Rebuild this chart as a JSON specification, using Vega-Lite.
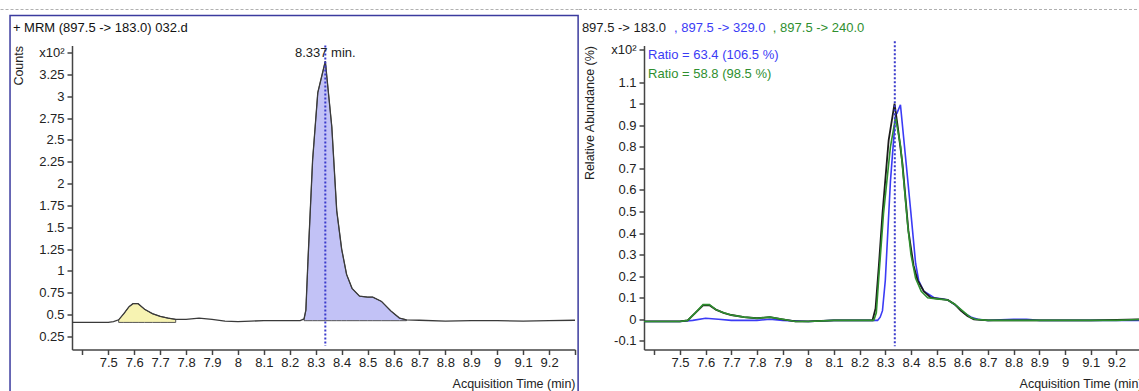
{
  "$schema": "https://vega.github.io/schema/vega-lite/v6.json",
  "background": "white",
  "padding": {"left": 0, "top": 8.5, "right": 5, "bottom": 5},
  "bounds": "flush",
  "spacing": 69,
  "datasets": {
    "mrm": [
      {"t": 7.36, "v": 0.41}, {"t": 7.40, "v": 0.41}, {"t": 7.45, "v": 0.41}, {"t": 7.50, "v": 0.41},
      {"t": 7.52, "v": 0.42}, {"t": 7.54, "v": 0.44}, {"t": 7.56, "v": 0.51}, {"t": 7.58, "v": 0.59},
      {"t": 7.595, "v": 0.625}, {"t": 7.615, "v": 0.625}, {"t": 7.64, "v": 0.56}, {"t": 7.67, "v": 0.51},
      {"t": 7.70, "v": 0.48}, {"t": 7.73, "v": 0.46}, {"t": 7.76, "v": 0.445}, {"t": 7.80, "v": 0.445},
      {"t": 7.85, "v": 0.46}, {"t": 7.90, "v": 0.445}, {"t": 7.95, "v": 0.425}, {"t": 8.00, "v": 0.42},
      {"t": 8.05, "v": 0.425}, {"t": 8.10, "v": 0.43}, {"t": 8.15, "v": 0.43}, {"t": 8.20, "v": 0.43},
      {"t": 8.24, "v": 0.43}, {"t": 8.255, "v": 0.45}, {"t": 8.262, "v": 0.55}, {"t": 8.27, "v": 1.11},
      {"t": 8.288, "v": 2.27}, {"t": 8.308, "v": 3.04}, {"t": 8.337, "v": 3.40}, {"t": 8.362, "v": 2.65},
      {"t": 8.381, "v": 1.69}, {"t": 8.40, "v": 1.25}, {"t": 8.419, "v": 0.96}, {"t": 8.44, "v": 0.80},
      {"t": 8.469, "v": 0.71}, {"t": 8.50, "v": 0.70}, {"t": 8.52, "v": 0.70}, {"t": 8.554, "v": 0.65},
      {"t": 8.59, "v": 0.54}, {"t": 8.623, "v": 0.46}, {"t": 8.65, "v": 0.44}, {"t": 8.70, "v": 0.435},
      {"t": 8.80, "v": 0.425}, {"t": 8.90, "v": 0.43}, {"t": 9.00, "v": 0.43}, {"t": 9.10, "v": 0.425},
      {"t": 9.20, "v": 0.43}, {"t": 9.30, "v": 0.435}
    ],
    "ratio": [
      {"trace": "897.5 -> 329.0", "t": 7.36, "v": -0.01}, {"trace": "897.5 -> 329.0", "t": 7.50, "v": -0.01},
      {"trace": "897.5 -> 329.0", "t": 7.55, "v": -0.005}, {"trace": "897.5 -> 329.0", "t": 7.60, "v": 0.005},
      {"trace": "897.5 -> 329.0", "t": 7.65, "v": 0.0}, {"trace": "897.5 -> 329.0", "t": 7.70, "v": -0.005},
      {"trace": "897.5 -> 329.0", "t": 7.80, "v": -0.005}, {"trace": "897.5 -> 329.0", "t": 7.85, "v": 0.0},
      {"trace": "897.5 -> 329.0", "t": 7.90, "v": -0.005}, {"trace": "897.5 -> 329.0", "t": 8.00, "v": -0.01},
      {"trace": "897.5 -> 329.0", "t": 8.10, "v": -0.005}, {"trace": "897.5 -> 329.0", "t": 8.20, "v": -0.005},
      {"trace": "897.5 -> 329.0", "t": 8.27, "v": -0.005}, {"trace": "897.5 -> 329.0", "t": 8.28, "v": 0.01},
      {"trace": "897.5 -> 329.0", "t": 8.289, "v": 0.04}, {"trace": "897.5 -> 329.0", "t": 8.30, "v": 0.18},
      {"trace": "897.5 -> 329.0", "t": 8.32, "v": 0.64}, {"trace": "897.5 -> 329.0", "t": 8.34, "v": 0.95},
      {"trace": "897.5 -> 329.0", "t": 8.345, "v": 0.955}, {"trace": "897.5 -> 329.0", "t": 8.359, "v": 0.995},
      {"trace": "897.5 -> 329.0", "t": 8.379, "v": 0.75}, {"trace": "897.5 -> 329.0", "t": 8.40, "v": 0.49},
      {"trace": "897.5 -> 329.0", "t": 8.418, "v": 0.26}, {"trace": "897.5 -> 329.0", "t": 8.43, "v": 0.18},
      {"trace": "897.5 -> 329.0", "t": 8.45, "v": 0.13}, {"trace": "897.5 -> 329.0", "t": 8.49, "v": 0.10},
      {"trace": "897.5 -> 329.0", "t": 8.52, "v": 0.095}, {"trace": "897.5 -> 329.0", "t": 8.543, "v": 0.09},
      {"trace": "897.5 -> 329.0", "t": 8.58, "v": 0.06}, {"trace": "897.5 -> 329.0", "t": 8.606, "v": 0.03},
      {"trace": "897.5 -> 329.0", "t": 8.635, "v": 0.01}, {"trace": "897.5 -> 329.0", "t": 8.66, "v": 0.0},
      {"trace": "897.5 -> 329.0", "t": 8.70, "v": -0.005}, {"trace": "897.5 -> 329.0", "t": 8.80, "v": 0.0},
      {"trace": "897.5 -> 329.0", "t": 8.85, "v": 0.0}, {"trace": "897.5 -> 329.0", "t": 8.90, "v": -0.005},
      {"trace": "897.5 -> 329.0", "t": 9.00, "v": -0.005}, {"trace": "897.5 -> 329.0", "t": 9.10, "v": -0.005},
      {"trace": "897.5 -> 329.0", "t": 9.20, "v": -0.005}, {"trace": "897.5 -> 329.0", "t": 9.30, "v": -0.005},

      {"trace": "897.5 -> 183.0", "t": 7.36, "v": -0.01}, {"trace": "897.5 -> 183.0", "t": 7.45, "v": -0.01},
      {"trace": "897.5 -> 183.0", "t": 7.50, "v": -0.01}, {"trace": "897.5 -> 183.0", "t": 7.53, "v": -0.005},
      {"trace": "897.5 -> 183.0", "t": 7.56, "v": 0.03}, {"trace": "897.5 -> 183.0", "t": 7.59, "v": 0.065},
      {"trace": "897.5 -> 183.0", "t": 7.615, "v": 0.065}, {"trace": "897.5 -> 183.0", "t": 7.64, "v": 0.045},
      {"trace": "897.5 -> 183.0", "t": 7.67, "v": 0.03}, {"trace": "897.5 -> 183.0", "t": 7.70, "v": 0.02},
      {"trace": "897.5 -> 183.0", "t": 7.75, "v": 0.01}, {"trace": "897.5 -> 183.0", "t": 7.80, "v": 0.005},
      {"trace": "897.5 -> 183.0", "t": 7.85, "v": 0.01}, {"trace": "897.5 -> 183.0", "t": 7.90, "v": 0.0},
      {"trace": "897.5 -> 183.0", "t": 7.95, "v": -0.01}, {"trace": "897.5 -> 183.0", "t": 8.00, "v": -0.01},
      {"trace": "897.5 -> 183.0", "t": 8.10, "v": -0.005}, {"trace": "897.5 -> 183.0", "t": 8.20, "v": -0.005},
      {"trace": "897.5 -> 183.0", "t": 8.25, "v": -0.005}, {"trace": "897.5 -> 183.0", "t": 8.262, "v": 0.05},
      {"trace": "897.5 -> 183.0", "t": 8.275, "v": 0.25}, {"trace": "897.5 -> 183.0", "t": 8.289, "v": 0.49},
      {"trace": "897.5 -> 183.0", "t": 8.313, "v": 0.83}, {"trace": "897.5 -> 183.0", "t": 8.336, "v": 1.0},
      {"trace": "897.5 -> 183.0", "t": 8.35, "v": 0.88}, {"trace": "897.5 -> 183.0", "t": 8.367, "v": 0.72},
      {"trace": "897.5 -> 183.0", "t": 8.39, "v": 0.41}, {"trace": "897.5 -> 183.0", "t": 8.41, "v": 0.25},
      {"trace": "897.5 -> 183.0", "t": 8.426, "v": 0.18}, {"trace": "897.5 -> 183.0", "t": 8.45, "v": 0.13},
      {"trace": "897.5 -> 183.0", "t": 8.477, "v": 0.10}, {"trace": "897.5 -> 183.0", "t": 8.51, "v": 0.095},
      {"trace": "897.5 -> 183.0", "t": 8.543, "v": 0.09}, {"trace": "897.5 -> 183.0", "t": 8.57, "v": 0.07},
      {"trace": "897.5 -> 183.0", "t": 8.594, "v": 0.04}, {"trace": "897.5 -> 183.0", "t": 8.62, "v": 0.015},
      {"trace": "897.5 -> 183.0", "t": 8.645, "v": 0.0}, {"trace": "897.5 -> 183.0", "t": 8.70, "v": -0.005},
      {"trace": "897.5 -> 183.0", "t": 8.80, "v": -0.005}, {"trace": "897.5 -> 183.0", "t": 8.90, "v": -0.005},
      {"trace": "897.5 -> 183.0", "t": 9.00, "v": -0.005}, {"trace": "897.5 -> 183.0", "t": 9.10, "v": -0.005},
      {"trace": "897.5 -> 183.0", "t": 9.20, "v": -0.003}, {"trace": "897.5 -> 183.0", "t": 9.30, "v": 0.0},

      {"trace": "897.5 -> 240.0", "t": 7.36, "v": -0.01}, {"trace": "897.5 -> 240.0", "t": 7.50, "v": -0.01},
      {"trace": "897.5 -> 240.0", "t": 7.53, "v": -0.005}, {"trace": "897.5 -> 240.0", "t": 7.56, "v": 0.03},
      {"trace": "897.5 -> 240.0", "t": 7.59, "v": 0.068}, {"trace": "897.5 -> 240.0", "t": 7.615, "v": 0.068},
      {"trace": "897.5 -> 240.0", "t": 7.64, "v": 0.045}, {"trace": "897.5 -> 240.0", "t": 7.67, "v": 0.03},
      {"trace": "897.5 -> 240.0", "t": 7.70, "v": 0.02}, {"trace": "897.5 -> 240.0", "t": 7.75, "v": 0.01},
      {"trace": "897.5 -> 240.0", "t": 7.80, "v": 0.005}, {"trace": "897.5 -> 240.0", "t": 7.85, "v": 0.01},
      {"trace": "897.5 -> 240.0", "t": 7.90, "v": 0.0}, {"trace": "897.5 -> 240.0", "t": 7.95, "v": -0.01},
      {"trace": "897.5 -> 240.0", "t": 8.00, "v": -0.01}, {"trace": "897.5 -> 240.0", "t": 8.10, "v": -0.005},
      {"trace": "897.5 -> 240.0", "t": 8.20, "v": -0.005}, {"trace": "897.5 -> 240.0", "t": 8.255, "v": -0.005},
      {"trace": "897.5 -> 240.0", "t": 8.265, "v": 0.03}, {"trace": "897.5 -> 240.0", "t": 8.275, "v": 0.2},
      {"trace": "897.5 -> 240.0", "t": 8.293, "v": 0.49}, {"trace": "897.5 -> 240.0", "t": 8.32, "v": 0.80},
      {"trace": "897.5 -> 240.0", "t": 8.34, "v": 0.935}, {"trace": "897.5 -> 240.0", "t": 8.36, "v": 0.80},
      {"trace": "897.5 -> 240.0", "t": 8.387, "v": 0.44}, {"trace": "897.5 -> 240.0", "t": 8.40, "v": 0.30},
      {"trace": "897.5 -> 240.0", "t": 8.418, "v": 0.19}, {"trace": "897.5 -> 240.0", "t": 8.44, "v": 0.13},
      {"trace": "897.5 -> 240.0", "t": 8.465, "v": 0.10}, {"trace": "897.5 -> 240.0", "t": 8.50, "v": 0.095},
      {"trace": "897.5 -> 240.0", "t": 8.543, "v": 0.09}, {"trace": "897.5 -> 240.0", "t": 8.57, "v": 0.07},
      {"trace": "897.5 -> 240.0", "t": 8.60, "v": 0.04}, {"trace": "897.5 -> 240.0", "t": 8.63, "v": 0.01},
      {"trace": "897.5 -> 240.0", "t": 8.65, "v": 0.0}, {"trace": "897.5 -> 240.0", "t": 8.70, "v": -0.005},
      {"trace": "897.5 -> 240.0", "t": 8.80, "v": -0.005}, {"trace": "897.5 -> 240.0", "t": 9.00, "v": -0.005},
      {"trace": "897.5 -> 240.0", "t": 9.20, "v": -0.005}, {"trace": "897.5 -> 240.0", "t": 9.30, "v": 0.0}
    ]
  },
  "config": {
    "view": {"stroke": null},
    "font": "Liberation Sans",
    "text": {"font": "Liberation Sans", "fontSize": 13},
    "axis": {
      "labelFont": "Liberation Sans", "labelFontSize": 13, "labelColor": "#222",
      "domainColor": "#444", "domainWidth": 1.5, "tickColor": "#444", "tickWidth": 1.5, "tickSize": 5,
      "grid": false,
      "titleFont": "Liberation Sans", "titleFontSize": 12.5, "titleFontWeight": "normal", "titleColor": "#222"
    },
    "axisX": {"labelPadding": 2},
    "axisY": {"labelPadding": 3}
  },
  "hconcat": [
    {
      "width": 503,
      "height": 304,
      "data": {"name": "mrm"},
      "encoding": {
        "x": {
          "field": "t", "type": "quantitative",
          "scale": {"domain": [7.36, 9.3], "nice": false, "zero": false},
          "axis": {
            "values": [7.4, 7.5, 7.6, 7.7, 7.8, 7.9, 8, 8.1, 8.2, 8.3, 8.4, 8.5, 8.6, 8.7, 8.8, 8.9, 9, 9.1, 9.2, 9.3],
            "labelExpr": "datum.value < 7.45 || datum.value > 9.25 ? '' : '' + datum.value",
            "labelFlush": false, "labelOverlap": false,
            "title": "Acquisition Time (min)", "titleAnchor": "end", "titlePadding": 8
          }
        },
        "y": {
          "field": "v", "type": "quantitative",
          "scale": {"domain": [0.1, 3.58], "nice": false, "zero": false},
          "axis": {
            "values": [0.25, 0.5, 0.75, 1, 1.25, 1.5, 1.75, 2, 2.25, 2.5, 2.75, 3, 3.25, 3.5],
            "labelExpr": "datum.value == 3.5 ? 'x10²' : '' + datum.value",
            "labelOverlap": false, "labelFlush": false,
            "title": "Counts", "titleAnchor": "end", "titlePadding": 13
          }
        }
      },
      "layer": [
        {
          "transform": [{"filter": "datum.t >= 7.54 && datum.t <= 7.76"}],
          "mark": {"type": "area", "fill": "#f7f3b2", "stroke": "#555", "strokeWidth": 1, "opacity": 1},
          "encoding": {"y2": {"datum": 0.41}}
        },
        {
          "transform": [{"filter": "datum.t >= 8.255 && datum.t <= 8.65"}],
          "mark": {"type": "area", "fill": "#c2c2f6", "stroke": "#555", "strokeWidth": 1, "opacity": 1},
          "encoding": {"y2": {"datum": 0.43}}
        },
        {
          "mark": {"type": "line", "color": "#3a3a3a", "strokeWidth": 1.3}
        },
        {
          "transform": [{"filter": "datum.t == 8.337"}],
          "mark": {"type": "rule", "color": "#3a3acc", "strokeWidth": 2, "strokeDash": [2, 2]},
          "encoding": {"y": {"datum": 3.58}, "y2": {"datum": 0.14}}
        },
        {
          "transform": [{"filter": "datum.t == 8.337"}],
          "mark": {"type": "text", "text": "8.337 min.", "align": "center", "baseline": "middle", "color": "#222", "fontSize": 13},
          "encoding": {"y": {"datum": 3.49}}
        },
        {
          "transform": [{"filter": "datum.t == 7.36"}],
          "mark": {"type": "text", "text": "+ MRM (897.5 -> 183.0) 032.d", "align": "left", "baseline": "middle", "color": "#111", "fontSize": 13},
          "encoding": {"x": {"datum": 7.132}, "y": {"datum": 3.786}}
        },
        {
          "transform": [{"filter": "datum.t == 7.36"}],
          "mark": {"type": "rect", "fill": null, "stroke": "#3b3b9e", "strokeWidth": 1.5},
          "encoding": {"x": {"datum": 7.121}, "x2": {"datum": 9.312}, "y": {"datum": 3.923}, "y2": {"datum": -0.45}}
        },
        {
          "transform": [{"filter": "datum.t == 7.36"}],
          "mark": {"type": "rule", "color": "#b0b0b0", "strokeWidth": 1, "strokeDash": [3, 2]},
          "encoding": {"x": {"datum": 7.0843}, "x2": {"datum": 9.315}, "y": {"datum": 3.992}}
        }
      ]
    },
    {
      "width": 498,
      "height": 304,
      "data": {"name": "ratio"},
      "encoding": {
        "x": {
          "field": "t", "type": "quantitative",
          "scale": {"domain": [7.36, 9.3], "nice": false, "zero": false},
          "axis": {
            "values": [7.4, 7.5, 7.6, 7.7, 7.8, 7.9, 8, 8.1, 8.2, 8.3, 8.4, 8.5, 8.6, 8.7, 8.8, 8.9, 9, 9.1, 9.2, 9.3],
            "labelExpr": "datum.value < 7.45 || datum.value > 9.25 ? '' : '' + datum.value",
            "labelFlush": false, "labelOverlap": false,
            "title": "Acquisition Time (min)", "titleAnchor": "end", "titlePadding": 8
          }
        },
        "y": {
          "field": "v", "type": "quantitative",
          "scale": {"domain": [-0.14, 1.27], "nice": false, "zero": false},
          "axis": {
            "values": [-0.1, 0, 0.1, 0.2, 0.3, 0.4, 0.5, 0.6, 0.7, 0.8, 0.9, 1, 1.1, 1.25],
            "labelExpr": "datum.value == 1.25 ? 'x10²' : '' + datum.value",
            "labelOverlap": false, "labelFlush": false,
            "title": "Relative Abundance (%)", "titleAnchor": "end", "titlePadding": 14
          }
        },
        "color": {
          "field": "trace", "type": "nominal",
          "scale": {"domain": ["897.5 -> 183.0", "897.5 -> 329.0", "897.5 -> 240.0"], "range": ["#1c1c1c", "#3b3bf5", "#2f8f2f"]},
          "legend": null
        }
      },
      "layer": [
        {
          "transform": [{"filter": "datum.trace == '897.5 -> 329.0'"}],
          "mark": {"type": "line", "strokeWidth": 1.6}
        },
        {
          "transform": [{"filter": "datum.trace == '897.5 -> 183.0'"}],
          "mark": {"type": "line", "strokeWidth": 1.8}
        },
        {
          "transform": [{"filter": "datum.trace == '897.5 -> 240.0'"}],
          "mark": {"type": "line", "strokeWidth": 1.6}
        },
        {
          "transform": [{"filter": "datum.t == 7.36 && datum.trace == '897.5 -> 183.0'"}],
          "mark": {"type": "rule", "color": "#3a3acc", "strokeWidth": 2, "strokeDash": [2, 2]},
          "encoding": {"x": {"datum": 8.337}, "y": {"datum": 1.29}, "y2": {"datum": -0.125}, "color": {"value": "#3a3acc"}}
        },
        {
          "transform": [{"filter": "datum.t == 7.36 && datum.trace == '897.5 -> 183.0'"}],
          "mark": {"type": "rule", "strokeWidth": 1, "strokeDash": [3, 2]},
          "encoding": {"x": {"datum": 7.1068}, "x2": {"datum": 9.35}, "y": {"datum": 1.437}, "color": {"value": "#b0b0b0"}}
        },
        {
          "transform": [{"filter": "datum.t == 7.36 && datum.trace == '897.5 -> 183.0'"}],
          "mark": {"type": "text", "text": "897.5 -> 183.0", "align": "left", "baseline": "middle", "fontSize": 13},
          "encoding": {"x": {"datum": 7.118}, "y": {"datum": 1.353}, "color": {"datum": "897.5 -> 183.0"}}
        },
        {
          "transform": [{"filter": "datum.t == 7.36 && datum.trace == '897.5 -> 183.0'"}],
          "mark": {"type": "text", "text": ", 897.5 -> 329.0", "align": "left", "baseline": "middle", "fontSize": 13},
          "encoding": {"x": {"datum": 7.477}, "y": {"datum": 1.353}, "color": {"datum": "897.5 -> 329.0"}}
        },
        {
          "transform": [{"filter": "datum.t == 7.36 && datum.trace == '897.5 -> 183.0'"}],
          "mark": {"type": "text", "text": ", 897.5 -> 240.0", "align": "left", "baseline": "middle", "fontSize": 13},
          "encoding": {"x": {"datum": 7.862}, "y": {"datum": 1.353}, "color": {"datum": "897.5 -> 240.0"}}
        },
        {
          "transform": [{"filter": "datum.t == 7.36 && datum.trace == '897.5 -> 183.0'"}],
          "mark": {"type": "text", "text": "Ratio = 63.4 (106.5 %)", "align": "left", "baseline": "middle", "fontSize": 13},
          "encoding": {"x": {"datum": 7.376}, "y": {"datum": 1.224}, "color": {"datum": "897.5 -> 329.0"}}
        },
        {
          "transform": [{"filter": "datum.t == 7.36 && datum.trace == '897.5 -> 183.0'"}],
          "mark": {"type": "text", "text": "Ratio = 58.8 (98.5 %)", "align": "left", "baseline": "middle", "fontSize": 13},
          "encoding": {"x": {"datum": 7.376}, "y": {"datum": 1.14}, "color": {"datum": "897.5 -> 240.0"}}
        }
      ]
    }
  ]
}
